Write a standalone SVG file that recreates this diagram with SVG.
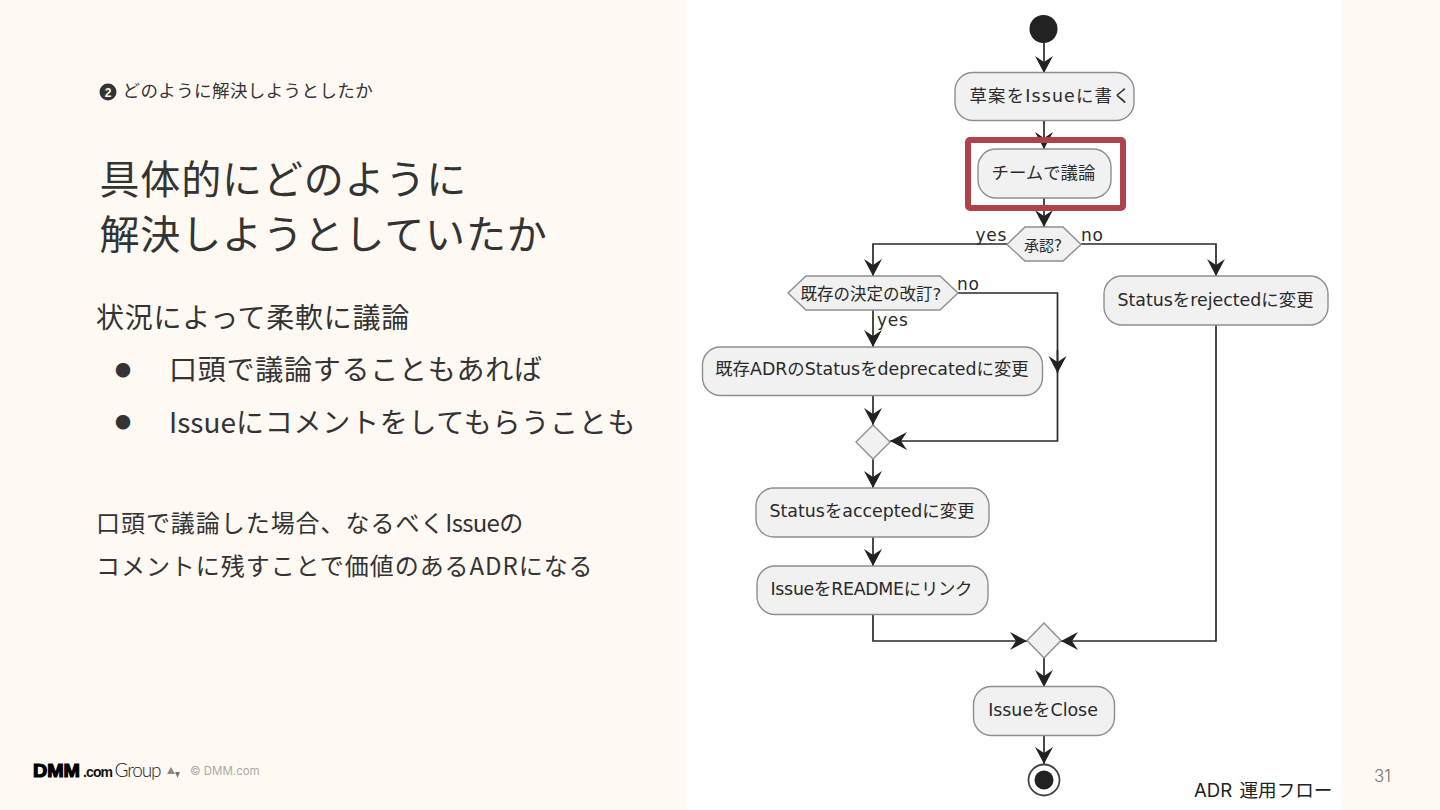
<svg xmlns="http://www.w3.org/2000/svg" width="1440" height="810" viewBox="0 0 1440 810">
<style>
.s{font-family:"Noto Sans CJK JP","Noto Sans",sans-serif;font-weight:400;fill:#333;}
.h{font-size:40px;letter-spacing:0.85px;}
.b{font-size:28px;letter-spacing:0.75px;}
.c{font-size:24px;letter-spacing:0.95px;}
.n rect,.n polygon{fill:#f1f1f1;stroke:#8e8e8e;stroke-width:1.4;}
.t{font-family:"DejaVu Sans","Noto Sans CJK JP",sans-serif;font-size:17.4px;fill:#2a2a2a;text-anchor:middle;}
.l{font-family:"DejaVu Sans",sans-serif;font-size:17px;letter-spacing:0.8px;fill:#2a2a2a;}
#connectors path{fill:none;stroke:#2a2a2a;stroke-width:1.7;}
</style>
<defs>
<marker id="a" markerUnits="userSpaceOnUse" markerWidth="22" markerHeight="22" refX="17" refY="9" orient="auto"><path d="M0 0L17 9L0 18L6 9Z" fill="#222"/></marker>
</defs>
<rect width="1440" height="810" fill="#fef9f3"/>
<rect x="686" width="656" height="810" fill="#fff"/>

<circle cx="108" cy="92" r="8.500" fill="#333"/><text x="108" y="96.500" font-family="Liberation Sans,sans-serif" font-size="12" font-weight="700" fill="#fef9f3" text-anchor="middle">2</text>
<text class="s" x="122.500" y="97" font-size="17.500" letter-spacing="0.4">どのように解決しようとしたか</text>
<text class="s h" x="99.500" y="194">具体的にどのように</text>
<text class="s h" x="99.500" y="249">解決しようとしていたか</text>
<text class="s b" x="96" y="328">状況によって柔軟に議論</text>
<text class="s" x="115" y="376" font-size="16">●</text>
<text class="s b" x="169" y="380">口頭で議論することもあれば</text>
<text class="s" x="115" y="428" font-size="16">●</text>
<text class="s b" x="169" y="433"><tspan letter-spacing="0">Issue</tspan>にコメントをしてもらうことも</text>
<text class="s c" x="96" y="532">口頭で議論した場合、なるべく<tspan letter-spacing="-0.7">Issue</tspan>の</text>
<text class="s c" x="96" y="575">コメントに残すことで価値のあるADRになる</text>

<g id="logo">
<text x="33" y="777" font-family="Liberation Sans,sans-serif" font-size="19" font-weight="700" fill="#000" stroke="#000" stroke-width="1.2" textLength="47" lengthAdjust="spacingAndGlyphs">DMM</text>
<text x="83" y="777" font-family="Liberation Sans,sans-serif" font-size="14" font-weight="700" fill="#111" textLength="30">.com</text>
<text x="114.500" y="777" font-family="Lato,sans-serif" font-size="19" font-weight="300" fill="#222" textLength="47">Group</text>
<polygon points="167,774 171,767 175,774" fill="#888"/><polygon points="175,772 180,772 177.500,778" fill="#777"/>
<text x="190" y="775" font-family="Inter,sans-serif" font-size="11.500" fill="#aaa">© DMM.com</text>
</g>
<text x="1374" y="782" font-family="Inter,sans-serif" font-size="17" font-weight="300" fill="#777">31</text>
<text x="1194" y="797" font-family="Inter,'Noto Sans CJK JP',sans-serif" font-size="18.600" fill="#222" word-spacing="2">ADR 運用フロー</text>

<g id="connectors">
<path d="M1044 43V73" marker-end="url(#a)"/>
<path d="M1044 120V149" marker-end="url(#a)"/>
<path d="M1044 197V227" marker-end="url(#a)"/>
<path d="M1008 244H873V276" marker-end="url(#a)"/>
<path d="M1081 244H1216V276" marker-end="url(#a)"/>
<path d="M873 310V347" marker-end="url(#a)"/>
<path d="M958 293H1057.500V441H890" marker-end="url(#a)"/>
<path d="M1057.500 350V373" marker-end="url(#a)"/>
<path d="M873 395V425" marker-end="url(#a)"/>
<path d="M873 459V488" marker-end="url(#a)"/>
<path d="M873 536V566" marker-end="url(#a)"/>
<path d="M873 614V641H1027" marker-end="url(#a)"/>
<path d="M1216 324V641H1061" marker-end="url(#a)"/>
<path d="M1044 658V687" marker-end="url(#a)"/>
<path d="M1044 735V764" marker-end="url(#a)"/>
</g>

<g id="start"><circle cx="1043.500" cy="29" r="14" fill="#222"/></g>
<g id="n1" class="n"><rect x="955" y="72.500" width="179" height="48" rx="18"/><text class="t" x="1050" y="102" textLength="161">草案をIssueに書く</text></g>
<g id="n2" class="n"><rect x="978" y="149" width="133" height="49" rx="18"/><text class="t" x="1043.500" y="179">チームで議論</text></g>
<g id="highlight"><rect x="968" y="140" width="155" height="68" rx="2" fill="none" stroke="#b0424a" stroke-width="6"/></g>
<g id="d1" class="n"><polygon points="1007,244.500 1025,227 1063,227 1081,244.500 1063,261 1025,261"/><text class="t" x="1043" y="251" style="font-size:15px">承認?</text></g>
<text class="l" x="975.500" y="241">yes</text>
<text class="l" x="1081" y="241">no</text>
<g id="d2" class="n"><polygon points="788,293 806,276 940,276 958,293 940,310 806,310"/><text class="t" x="871" y="300" style="font-size:16.500px">既存の決定の改訂?</text></g>
<text class="l" x="957" y="290">no</text>
<text class="l" x="877" y="326">yes</text>
<g id="n3" class="n"><rect x="1104" y="276" width="224" height="49" rx="18"/><text class="t" x="1215.500" y="306">Statusをrejectedに変更</text></g>
<g id="n4" class="n"><rect x="702.500" y="347" width="340" height="48.500" rx="18"/><text class="t" x="872" y="375">既存ADRのStatusをdeprecatedに変更</text></g>
<g id="m1" class="n"><polygon points="873,425 890,442 873,459 856,442"/></g>
<g id="n5" class="n"><rect x="756" y="488" width="233" height="49" rx="18"/><text class="t" x="872" y="517">Statusをacceptedに変更</text></g>
<g id="n6" class="n"><rect x="757" y="566" width="231" height="48.500" rx="18"/><text class="t" x="871.500" y="595" textLength="202">IssueをREADMEにリンク</text></g>
<g id="m2" class="n"><polygon points="1044,623 1061,640.500 1044,658 1027,640.500"/></g>
<g id="n7" class="n"><rect x="973.500" y="686.500" width="141" height="49" rx="18"/><text class="t" x="1043" y="716">IssueをClose</text></g>
<g id="end"><circle cx="1044" cy="780" r="15.500" fill="#fff" stroke="#444" stroke-width="1.800"/><circle cx="1044" cy="780" r="9.500" fill="#222"/></g>
</svg>
